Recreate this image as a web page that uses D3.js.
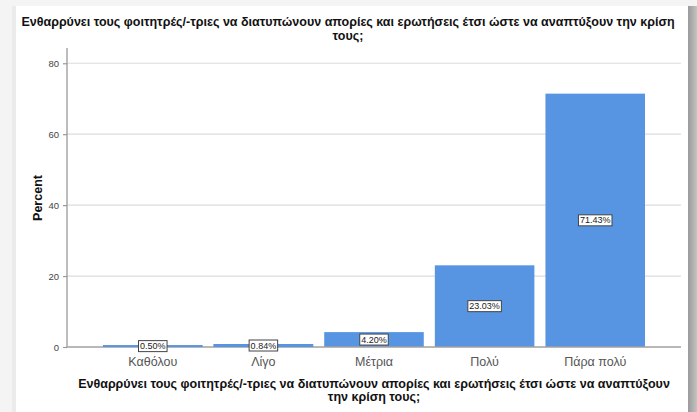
<!DOCTYPE html>
<html><head><meta charset="utf-8">
<script src="https://cdn.jsdelivr.net/npm/d3@7"></script>
<style>
html,body{margin:0;padding:0;background:#f3f3f3;}
svg{display:block;}
</style></head>
<body>
<script>
const categories = ["Καθόλου", "Λίγο", "Μέτρια", "Πολύ", "Πάρα πολύ"];
const percents = [0.50, 0.84, 4.20, 23.03, 71.43];
const yTicks = [0, 20, 40, 60, 80];
const titleLines = ["Ενθαρρύνει τους φοιτητρές/-τριες να διατυπώνουν απορίες και ερωτήσεις έτσι ώστε να αναπτύξουν την κρίση", "τους;"];
const xTitleLines = ["Ενθαρρύνει τους φοιτητρές/-τριες να διατυπώνουν απορίες και ερωτήσεις έτσι ώστε να αναπτύξουν", "την κρίση τους;"];
const yTitle = "Percent";

const W = 697, H = 412;
const FONT = "Liberation Sans, Arial, sans-serif";
const svg = d3.select("body").append("svg").attr("width", W).attr("height", H);

// frame background
const defs = svg.append("defs");
const g1 = defs.append("linearGradient").attr("id","rg").attr("x1","0").attr("x2","1");
g1.append("stop").attr("offset","0").attr("stop-color","#9a9a9a");
g1.append("stop").attr("offset","1").attr("stop-color","#c4c4c4");
svg.append("rect").attr("x",0).attr("y",0).attr("width",W).attr("height",H).attr("fill","#f4f4f4");
svg.append("rect").attr("x",12).attr("y",6).attr("width",5).attr("height",H).attr("fill","#ebebeb");
svg.append("rect").attr("x",688).attr("y",6).attr("width",9).attr("height",H).attr("fill","url(#rg)");
svg.append("rect").attr("x",16).attr("y",6).attr("width",672).attr("height",H).attr("fill","#ffffff");

const plotL = 67, plotR = 681, y0 = 347;
const y = d3.scaleLinear().domain([0, 84.3]).range([y0, 48]);
const x = d3.scaleBand().domain(categories).range([103, 645]).paddingInner(0.1).paddingOuter(0);

// gridlines
svg.append("g").selectAll("line").data(yTicks.filter(d=>d>0)).join("line")
  .attr("x1", plotL).attr("x2", plotR)
  .attr("y1", d=>y(d)).attr("y2", d=>y(d))
  .attr("stroke", "#dcdcdc").attr("stroke-width", 1.2);

// bars
svg.append("g").selectAll("rect").data(percents).join("rect")
  .attr("x", (d,i)=>x(categories[i]))
  .attr("width", x.bandwidth())
  .attr("y", d=>y(d))
  .attr("height", d=>y0 - y(d))
  .attr("fill", "#5795e2");

// y axis
const yAxis = d3.axisLeft(y).tickValues(yTicks).tickSize(4).tickPadding(4).tickFormat(d3.format("d"));
const ya = svg.append("g").attr("transform", `translate(${plotL},0)`).call(yAxis);
ya.select(".domain").remove();
ya.selectAll(".tick line").attr("stroke", "#999").attr("stroke-width",1.2);
ya.selectAll(".tick text").attr("fill", "#444").style("font-family",FONT).style("font-size","9.5px");
svg.append("line").attr("x1", plotL).attr("x2", plotL).attr("y1", 48).attr("y2", y0)
  .attr("stroke", "#999").attr("stroke-width", 1.3);

// x axis
const xAxis = d3.axisBottom(x).tickSize(0).tickPadding(10);
const xa = svg.append("g").attr("transform", `translate(0,${y0})`).call(xAxis);
xa.select(".domain").remove();
xa.selectAll(".tick text").attr("fill", "#555").style("font-family",FONT).style("font-size","12.5px");
svg.append("line").attr("x1", plotL).attr("x2", plotR).attr("y1", y0).attr("y2", y0)
  .attr("stroke", "#a0a0a0").attr("stroke-width", 1.5);
// tiny bars drawn over the axis line
svg.append("g").selectAll("rect").data(percents.filter(d => d < 2)).join("rect")
  .attr("x", d=>x(categories[percents.indexOf(d)]))
  .attr("width", x.bandwidth())
  .attr("y", d=>Math.min(y(d), y0-1.5))
  .attr("height", d=>Math.max(y0 - y(d), 1.5))
  .attr("fill", "#5795e2");

// value labels
const lab = svg.append("g").selectAll("g").data(percents).join("g")
  .attr("transform", (d,i)=>`translate(${x(categories[i]) + x.bandwidth()/2},${(y(d)+y0)/2})`);
lab.append("text").attr("text-anchor","middle").attr("dy","0.35em")
  .style("font-family",FONT).style("font-size","9px").attr("fill","#222")
  .text(d=>d.toFixed(2)+"%");
lab.each(function(){
  const t = d3.select(this).select("text");
  const w = t.node().getComputedTextLength();
  d3.select(this).insert("rect","text").attr("x", -w/2-1.5).attr("y", -5.5).attr("width", w+3).attr("height", 11)
    .attr("fill","#fff").attr("stroke","#444").attr("stroke-width",1);
});

// title
svg.append("g").selectAll("text").data(titleLines).join("text")
  .attr("x", 348).attr("y", (d,i)=>26 + i*14).attr("text-anchor","middle")
  .style("font-family",FONT).style("font-size","12.5px").style("font-weight","bold")
  .attr("fill","#111").text(d=>d);

// x title
svg.append("g").selectAll("text").data(xTitleLines).join("text")
  .attr("x", 374).attr("y", (d,i)=>388 + i*13).attr("text-anchor","middle")
  .style("font-family",FONT).style("font-size","12.5px").style("font-weight","bold")
  .attr("fill","#111").text(d=>d);

// y title
svg.append("text").attr("transform","translate(42,198) rotate(-90)").attr("text-anchor","middle")
  .style("font-family",FONT).style("font-size","12.5px").style("font-weight","bold")
  .attr("fill","#111").text(yTitle);
</script>
</body></html>
